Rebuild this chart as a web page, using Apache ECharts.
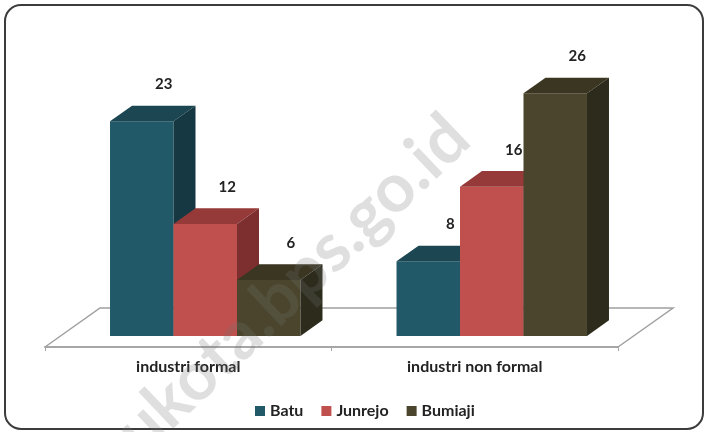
<!DOCTYPE html>
<html>
<head>
<meta charset="utf-8">
<style>
  html, body { margin: 0; padding: 0; background: #fff; }
  #chart { width: 708px; height: 432px; }
</style>
<script src="https://cdn.jsdelivr.net/npm/echarts@6/dist/echarts.min.js"></script>
</head>
<body>
<div id="chart"></div>
<script>
'use strict';

var categories = ['industri formal', 'industri non formal'];
var seriesNames = ['Batu', 'Junrejo', 'Bumiaji'];
var batuValues = [23, 8];
var junrejoValues = [12, 16];
var bumiajiValues = [6, 26];

// front, top, side colours for each series
var faceColors = [
    ['#215968', '#1b4652', '#153843'],
    ['#c0504d', '#953a38', '#7c2f2e'],
    ['#4a452c', '#3a3622', '#2d2b1c']
];

// fake 3D depth (px)
var SHIFT_X = 17, SHIFT_Y = 11;   // bars sit a bit behind the floor front edge
var DEPTH_X = 22, DEPTH_Y = 15.7; // bar depth
var FLOOR_X = 55, FLOOR_Y = 39;   // floor depth

var font = 'Lato, "Open Sans", sans-serif';

function barRender(idx) {
    return function (params, api) {
        var cat = api.value(0);
        var val = api.value(1);
        var base = api.coord([cat, 0]);
        var band = api.size([1, 0])[0];
        var h = api.size([0, val])[1];
        var bw = band * 0.2216;
        var x0 = base[0] + SHIFT_X - bw * 1.5 + idx * bw;
        var x1 = x0 + bw;
        var yb = base[1] - SHIFT_Y;
        var yt = yb - h;
        var c = faceColors[idx];
        return {
            type: 'group',
            children: [
                {
                    type: 'polygon',
                    shape: { points: [[x0, yb], [x1, yb], [x1, yt], [x0, yt]] },
                    style: { fill: c[0] }
                },
                {
                    type: 'polygon',
                    shape: { points: [[x0, yt], [x1, yt], [x1 + DEPTH_X, yt - DEPTH_Y], [x0 + DEPTH_X, yt - DEPTH_Y]] },
                    style: { fill: c[1] }
                },
                {
                    type: 'polygon',
                    shape: { points: [[x1, yb], [x1 + DEPTH_X, yb - DEPTH_Y], [x1 + DEPTH_X, yt - DEPTH_Y], [x1, yt]] },
                    style: { fill: c[2] }
                },
                {
                    type: 'text',
                    style: {
                        x: x0 + bw / 2 + 22,
                        y: yt - 37,
                        text: String(val),
                        align: 'center',
                        verticalAlign: 'middle',
                        font: 'bold 15px ' + font,
                        fill: '#222'
                    }
                }
            ]
        };
    };
}

function floorRender(params, api) {
    var band = api.size([1, 0])[0];
    var p0 = api.coord([0, 0]);
    var p1 = api.coord([categories.length - 1, 0]);
    var left = p0[0] - band / 2;
    var right = p1[0] + band / 2;
    var y = p0[1];
    return {
        type: 'polyline',
        shape: {
            points: [[left, y], [left + FLOOR_X, y - FLOOR_Y], [right + FLOOR_X, y - FLOOR_Y], [right, y]]
        },
        style: { fill: null, stroke: '#a0a0a0', lineWidth: 1.5 }
    };
}

function seriesData(values) {
    return values.map(function (v, i) { return [i, v]; });
}

var allValues = [batuValues, junrejoValues, bumiajiValues];

var series = [{
    type: 'custom',
    name: 'floor',
    renderItem: floorRender,
    data: [[0, 0]],
    silent: true,
    z: 1
}];
seriesNames.forEach(function (name, i) {
    series.push({
        type: 'custom',
        name: name,
        renderItem: barRender(i),
        itemStyle: { color: faceColors[i][0] },
        data: seriesData(allValues[i]),
        z: 2 + i
    });
});

var option = {
    animation: false,
    backgroundColor: '#fff',
    grid: { left: 45, right: 90, bottom: 85, top: 67 },
    xAxis: {
        type: 'category',
        data: categories,
        axisLine: { lineStyle: { color: '#a6a6a6', width: 2 } },
        axisTick: { show: true, length: 4, interval: 0, lineStyle: { color: '#a6a6a6' } },
        axisLabel: { margin: 12, color: '#222', fontWeight: 'bold', fontSize: 16, fontFamily: font }
    },
    yAxis: {
        type: 'value',
        min: 0,
        max: 30,
        show: false
    },
    legend: {
        data: seriesNames,
        left: 250,
        top: 398,
        icon: 'rect',
        itemWidth: 10,
        itemHeight: 10,
        itemGap: 18,
        textStyle: { color: '#222', fontWeight: 'bold', fontSize: 16, fontFamily: font }
    },
    graphic: [
        {
            type: 'rect',
            shape: { x: 5, y: 5, width: 698, height: 424, r: 16 },
            style: { fill: null, stroke: '#3c3c3c', lineWidth: 2 },
            silent: true
        },
        {
            type: 'text',
            x: 482,
            y: 152,
            rotation: 0.76,
            z: 100,
            silent: true,
            style: {
                text: 'batukota.bps.go.id',
                align: 'right',
                verticalAlign: 'bottom',
                font: 'bold 68px ' + font,
                fill: 'rgba(118,118,118,0.23)'
            }
        }
    ],
    series: series
};

var myChart = echarts.init(document.getElementById('chart'));
myChart.setOption(option);
</script>
</body>
</html>
